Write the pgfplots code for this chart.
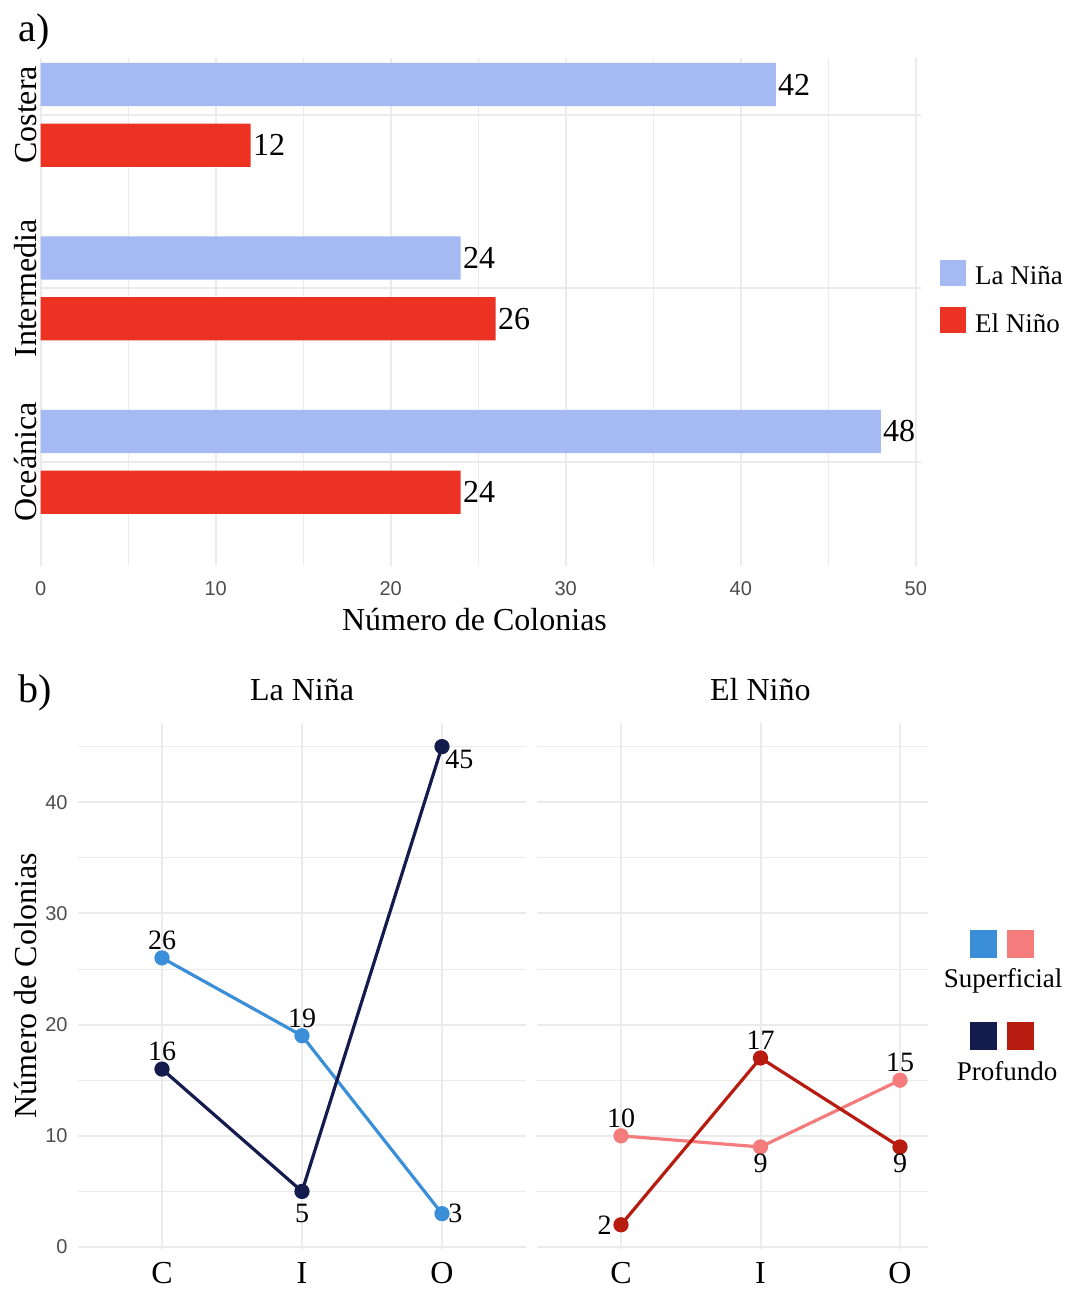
\documentclass[border=0pt]{standalone}
\usepackage{fontspec}
\setmainfont{Liberation Serif}
\setsansfont{Liberation Sans}
\usepackage{pgfplots}
\pgfplotsset{compat=1.18}
\definecolor{ninaBar}{HTML}{A5B9F3}
\definecolor{ninoBar}{HTML}{EC3323}
\definecolor{supNina}{HTML}{3B8FD9}
\definecolor{supNino}{HTML}{F47C7C}
\definecolor{proNina}{HTML}{141B4D}
\definecolor{proNino}{HTML}{B81B10}
\definecolor{gridMaj}{HTML}{EBEBEB}
\definecolor{tickGray}{HTML}{4D4D4D}
\pgfplotsset{
  minimalstyle/.style={
    scale only axis,
    axis line style={draw=none},
    major tick length=0pt, minor tick length=0pt,
    tick style={draw=none},
    grid=both,
    major grid style={gridMaj, line width=1pt},
    minor grid style={gridMaj, line width=0.5pt},
    /pgf/number format/assume math mode=true,
    tick label style={font=\fontsize{10}{12}\selectfont\sffamily, text=tickGray},
    clip=false,
  },
  lbl/.style={draw=none, mark=none, nodes near coords, point meta=y, forget plot,
    every node near coord/.append style={font=\fontsize{14}{16}\selectfont, text=black, inner sep=0pt, #1}},
}
\begin{document}
\begin{tikzpicture}
\useasboundingbox (0,0) rectangle (533.5pt,644.5pt);
% ---------------- panel a ----------------
\begin{axis}[minimalstyle,
  at={(20.35pt,361.5pt)}, anchor=south west,
  width=440.15pt, height=254.2pt,
  xmin=0, xmax=50.3, ymin=0.4, ymax=3.33,
  bar width=0.25, bar shift=0pt,
  xtick={0,10,...,50}, minor xtick={5,15,...,45},
  ytick={1,2,3}, yticklabels={Oceánica,Intermedia,Costera},
  yticklabel style={font=\fontsize{16}{19}\selectfont\rmfamily, text=black, rotate=90, anchor=base, inner sep=0pt},
  yticklabel shift=2pt,
  xticklabel style={anchor=north, inner sep=0pt},
  xticklabel shift=7.5pt,
  xlabel={Número de Colonias},
  xlabel style={at={(axis description cs:0.4928,-0.1275)}, anchor=base, font=\fontsize{16}{19}\selectfont},
  nodes near coords, point meta=x,
  every node near coord/.append style={font=\fontsize{16}{19}\selectfont, text=black, inner sep=0pt, anchor=west, xshift=1pt},
  legend style={at={(axis description cs:1.0216,0.528)}, anchor=west, draw=none, fill=none,
    inner sep=0pt, outer sep=0pt, font=\fontsize{13.5}{16}\selectfont,
    row sep=10pt, column sep=4.5pt, nodes={inner sep=0pt}},
  legend cell align=left,
  legend image code/.code={\fill[#1] (0pt,-4.5pt) rectangle (13pt,8.5pt);},
]
% bars drawn at the dodged positions: category (3 Costera, 2 Intermedia, 1 Oceánica) +/- 0.175
\addplot[xbar, fill=ninaBar, draw=none] coordinates {(42,3.175) (24,2.175) (48,1.175)};
\addlegendentry{La Niña}
\addplot[xbar, fill=ninoBar, draw=none] coordinates {(12,2.825) (26,1.825) (24,0.825)};
\addlegendentry{El Niño}
\end{axis}
\node[anchor=base west, inner sep=0pt, font=\fontsize{20}{24}\selectfont] at (9pt,623.5pt) {a)};
% ---------------- panel b, La Niña ----------------
\begin{axis}[minimalstyle,
  at={(39pt,20.15pt)}, anchor=south west,
  width=224pt, height=263pt,
  xmin=0.4, xmax=3.6, ymin=-0.15, ymax=47.15,
  xtick={1,2,3}, xticklabels={C,I,O},
  ytick={0,10,...,40}, minor ytick={5,15,...,45},
  xticklabel style={font=\fontsize{16}{19}\selectfont\rmfamily, text=black, anchor=north, inner sep=0pt},
  xticklabel shift=6.5pt,
  yticklabel style={anchor=east, inner sep=0pt}, yticklabel shift=5pt,
  ylabel={Número de Colonias},
  ylabel style={at={(axis description cs:-0.0917,0.5)}, anchor=base, font=\fontsize{16}{19}\selectfont},
  title={La Niña},
  title style={at={(axis description cs:0.5,1.0203)}, anchor=base, font=\fontsize{16}{19}\selectfont},
]
\addplot[color=supNina, line width=1.6pt, mark=*, mark size=3pt, mark options={solid, fill=supNina}] coordinates {(1,26) (2,19) (3,3)};
\addplot[color=proNina, line width=1.6pt, mark=*, mark size=3pt, mark options={solid, fill=proNina}] coordinates {(1,16) (2,5) (3,45)};
\addplot[lbl={anchor=south, yshift=4pt}] coordinates {(1,26) (2,19) (1,16)};
\addplot[lbl={anchor=north, yshift=-6pt}] coordinates {(2,5)};
\addplot[lbl={anchor=west, xshift=3pt}] coordinates {(3,3)};
\addplot[lbl={anchor=north west, xshift=1.5pt, yshift=-1.5pt}] coordinates {(3,45)};
\end{axis}
% ---------------- panel b, El Niño ----------------
\begin{axis}[minimalstyle,
  at={(268.65pt,20.15pt)}, anchor=south west,
  width=195.3pt, height=263pt,
  xmin=0.4, xmax=3.2, ymin=-0.15, ymax=47.15,
  xtick={1,2,3}, xticklabels={C,I,O},
  ytick={0,10,...,40}, minor ytick={5,15,...,45},
  yticklabels=\empty,
  xticklabel style={font=\fontsize{16}{19}\selectfont\rmfamily, text=black, anchor=north, inner sep=0pt},
  xticklabel shift=6.5pt,
  title={El Niño},
  title style={at={(axis description cs:0.571,1.0203)}, anchor=base, font=\fontsize{16}{19}\selectfont},
]
\addplot[color=supNino, line width=1.6pt, mark=*, mark size=3pt, mark options={solid, fill=supNino}] coordinates {(1,10) (2,9) (3,15)};
\addplot[color=proNino, line width=1.6pt, mark=*, mark size=3pt, mark options={solid, fill=proNino}] coordinates {(1,2) (2,17) (3,9)};
\addplot[lbl={anchor=south, yshift=4pt}] coordinates {(1,10) (3,15) (2,17)};
\addplot[lbl={anchor=north, yshift=-3.5pt}] coordinates {(2,9) (3,9)};
\addplot[lbl={anchor=east, xshift=-4.5pt}] coordinates {(1,2)};
\end{axis}
\node[anchor=base west, inner sep=0pt, font=\fontsize{20}{24}\selectfont] at (9pt,293pt) {b)};
% legend b
\fill[supNina] (485pt,165.5pt) rectangle (498.5pt,179.5pt);
\fill[supNino] (503.5pt,165.5pt) rectangle (517pt,179.5pt);
\node[anchor=base, inner sep=0pt, font=\fontsize{13.5}{16}\selectfont] at (501.5pt,150.5pt) {Superficial};
\fill[proNina] (485pt,119.5pt) rectangle (498.5pt,133.5pt);
\fill[proNino] (503.5pt,119.5pt) rectangle (517pt,133.5pt);
\node[anchor=base, inner sep=0pt, font=\fontsize{13.5}{16}\selectfont] at (503.5pt,104pt) {Profundo};
\end{tikzpicture}
\end{document}
